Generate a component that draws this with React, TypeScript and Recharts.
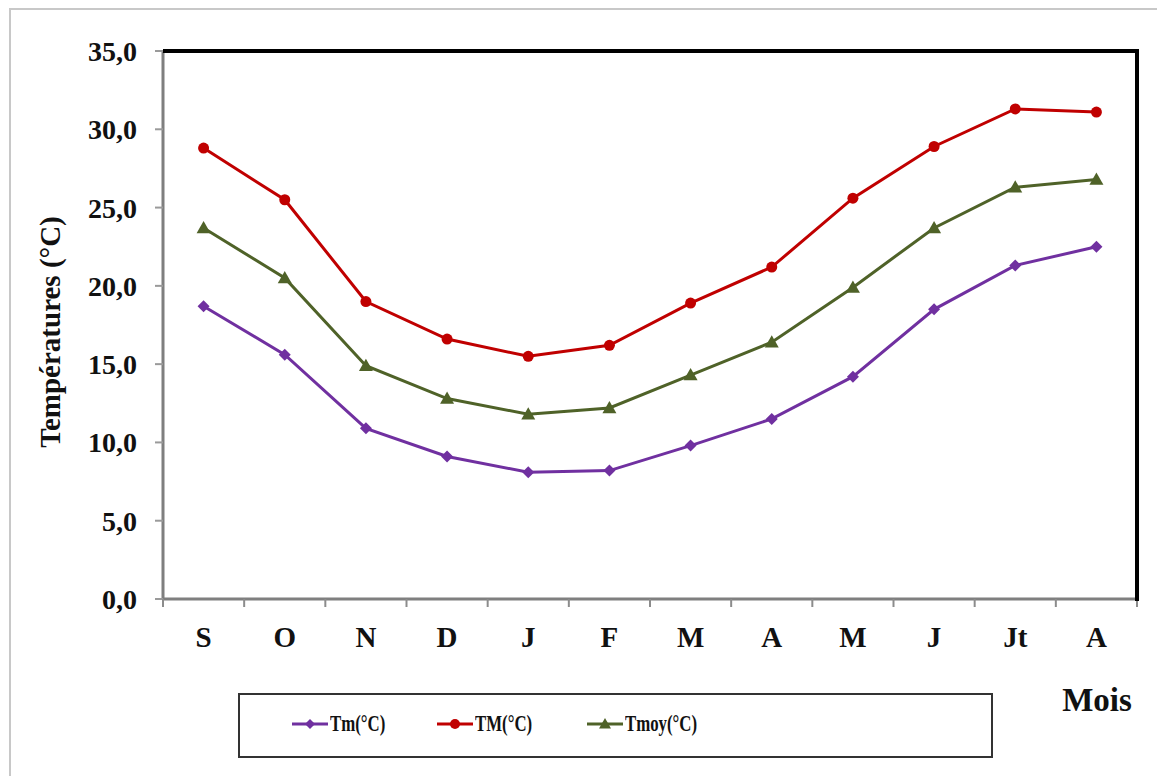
import React from "react";
import { LineChart, Line, XAxis, YAxis } from "recharts";

const months = ["S", "O", "N", "D", "J", "F", "M", "A", "M", "J", "Jt", "A"];
const tmValues = [18.7, 15.6, 10.9, 9.1, 8.1, 8.2, 9.8, 11.5, 14.2, 18.5, 21.3, 22.5];
const tMaxValues = [28.8, 25.5, 19.0, 16.6, 15.5, 16.2, 18.9, 21.2, 25.6, 28.9, 31.3, 31.1];
const tMoyValues = [23.7, 20.5, 14.9, 12.8, 11.8, 12.2, 14.3, 16.4, 19.9, 23.7, 26.3, 26.8];
const yTicks = [0, 5, 10, 15, 20, 25, 30, 35];

const data = months.map((m, i) => ({
  key: `${m}-${i}`,
  month: m,
  tm: tmValues[i],
  tM: tMaxValues[i],
  tmoy: tMoyValues[i],
}));

const FONT = '"Liberation Serif", "Times New Roman", serif';
const PURPLE = "#7030A0";
const RED = "#C00000";
const GREEN = "#4F6228";

const WIDTH = 1157;
const HEIGHT = 776;
const MARGIN = { top: 51, right: 20, bottom: 137, left: 0 };
const Y_AXIS_W = 163;
const X_AXIS_H = 40;
const PLOT_W = WIDTH - MARGIN.left - MARGIN.right - Y_AXIS_W;
const PLOT_H = HEIGHT - MARGIN.top - MARGIN.bottom - X_AXIS_H;
const BAND = PLOT_W / months.length;

const Diamond = ({ cx, cy, fill, size = 6 }: any) =>
  cx == null || cy == null ? null : (
    <polygon
      points={`${cx},${cy - size} ${cx + size},${cy} ${cx},${cy + size} ${cx - size},${cy}`}
      fill={fill}
    />
  );

const Triangle = ({ cx, cy, fill, size = 7 }: any) =>
  cx == null || cy == null ? null : (
    <polygon
      points={`${cx},${cy - size} ${cx + size},${cy + size * 0.75} ${cx - size},${cy + size * 0.75}`}
      fill={fill}
    />
  );

const MonthTick = ({ x, y, payload, index }: any) => (
  <g>
    <line x1={x - BAND / 2} x2={x - BAND / 2} y1={y} y2={y + 8} stroke="#8c8c8c" strokeWidth={2} />
    {index === months.length - 1 && (
      <line x1={x + BAND / 2} x2={x + BAND / 2} y1={y} y2={y + 8} stroke="#8c8c8c" strokeWidth={2} />
    )}
    <text
      x={x}
      y={y + 48}
      textAnchor="middle"
      fontFamily={FONT}
      fontWeight="bold"
      fontSize={29}
      fill="#111"
    >
      {payload.value}
    </text>
  </g>
);

const legendItems = [
  { label: "Tm(°C)", color: PURPLE, shape: "diamond" },
  { label: "TM(°C)", color: RED, shape: "circle" },
  { label: "Tmoy(°C)", color: GREEN, shape: "triangle" },
];

const LegendIcon = ({ color, shape }: { color: string; shape: string }) => (
  <svg width={36} height={16} style={{ marginRight: 2 }}>
    <line x1={0} x2={36} y1={8} y2={8} stroke={color} strokeWidth={3} />
    {shape === "circle" && <circle cx={18} cy={8} r={5} fill={color} />}
    {shape === "diamond" && <Diamond cx={18} cy={8} size={5} fill={color} />}
    {shape === "triangle" && <Triangle cx={18} cy={8} size={6} fill={color} />}
  </svg>
);

export default function App() {
  return (
    <div
      style={{
        position: "absolute",
        left: 0,
        top: 0,
        width: WIDTH,
        height: HEIGHT,
        overflow: "hidden",
        background: "#fff",
      }}
    >
      <div
        style={{
          position: "absolute",
          left: 9,
          top: 8,
          width: 1300,
          height: 900,
          border: "2px solid #c8c8c8",
        }}
      />
      <div style={{ position: "absolute", left: 0, top: 0 }}>
        <LineChart width={WIDTH} height={HEIGHT} data={data} margin={MARGIN}>
          <XAxis
            dataKey="key"
            height={X_AXIS_H}
            padding={{ left: BAND / 2, right: BAND / 2 }}
            axisLine={{ stroke: "#7f7f7f", strokeWidth: 3 }}
            tickLine={false}
            tickSize={0}
            tickMargin={0}
            interval={0}
            tick={(props: any) => (
              <MonthTick {...props} payload={{ value: months[props.index] }} />
            )}
            label={{
              content: ({ viewBox }: any) => (
                <text
                  x={viewBox.x + viewBox.width - 40}
                  y={711}
                  textAnchor="middle"
                  fontFamily={FONT}
                  fontWeight="bold"
                  fontSize={33}
                  fill="#111"
                >
                  Mois
                </text>
              ),
            }}
          />
          <YAxis
            width={Y_AXIS_W}
            domain={[0, 35]}
            ticks={yTicks}
            interval={0}
            axisLine={{ stroke: "#7f7f7f", strokeWidth: 3 }}
            tickLine={{ stroke: "#9a9a9a", strokeWidth: 2 }}
            tickSize={8}
            tickMargin={18}
            tickFormatter={(v: number) => v.toFixed(1).replace(".", ",")}
            tick={{ fontFamily: FONT, fontWeight: "bold", fontSize: 28, fill: "#111" }}
            label={{
              content: ({ viewBox }: any) => {
                const cx = viewBox.x + 50;
                const cy = viewBox.y + viewBox.height / 2 + 7;
                return (
                  <text
                    x={cx}
                    y={cy}
                    transform={`rotate(-90 ${cx} ${cy})`}
                    textAnchor="middle"
                    dominantBaseline="central"
                    fontFamily={FONT}
                    fontWeight="bold"
                    fontSize={29}
                    fill="#111"
                  >
                    Températures (°C)
                  </text>
                );
              },
            }}
          />
          <Line
            dataKey="tm"
            stroke={PURPLE}
            strokeWidth={3}
            dot={(p: any) => <Diamond key={`tm-${p.index}`} {...p} fill={PURPLE} size={6} />}
            activeDot={false}
            isAnimationActive={false}
          />
          <Line
            dataKey="tM"
            stroke={RED}
            strokeWidth={3}
            dot={{ r: 5.5, fill: RED, stroke: RED, strokeWidth: 0 }}
            activeDot={false}
            isAnimationActive={false}
          />
          <Line
            dataKey="tmoy"
            stroke={GREEN}
            strokeWidth={3}
            dot={(p: any) => <Triangle key={`tmoy-${p.index}`} {...p} fill={GREEN} size={7} />}
            activeDot={false}
            isAnimationActive={false}
          />
        </LineChart>
      </div>
      {/* plot frame: black top and right edges */}
      <div
        style={{
          position: "absolute",
          left: MARGIN.left + Y_AXIS_W,
          top: MARGIN.top - 2,
          width: PLOT_W - 2,
          height: PLOT_H,
          borderTop: "4px solid #000",
          borderRight: "4px solid #000",
          pointerEvents: "none",
        }}
      />
      <div
        style={{
          position: "absolute",
          left: 238,
          top: 693,
          width: 751,
          height: 61,
          border: "2px solid #333",
          fontFamily: FONT,
          fontWeight: "bold",
          fontSize: 24,
          color: "#111",
        }}
      >
        {legendItems.map((item, i) => (
          <div
            key={item.label}
            style={{
              position: "absolute",
              left: [52, 197, 347][i],
              top: 15,
              display: "flex",
              alignItems: "center",
            }}
          >
            <LegendIcon color={item.color} shape={item.shape} />
            <span style={{ display: "inline-block", transform: "scaleX(0.7)", transformOrigin: "left center" }}>
              {item.label}
            </span>
          </div>
        ))}
      </div>
    </div>
  );
}
